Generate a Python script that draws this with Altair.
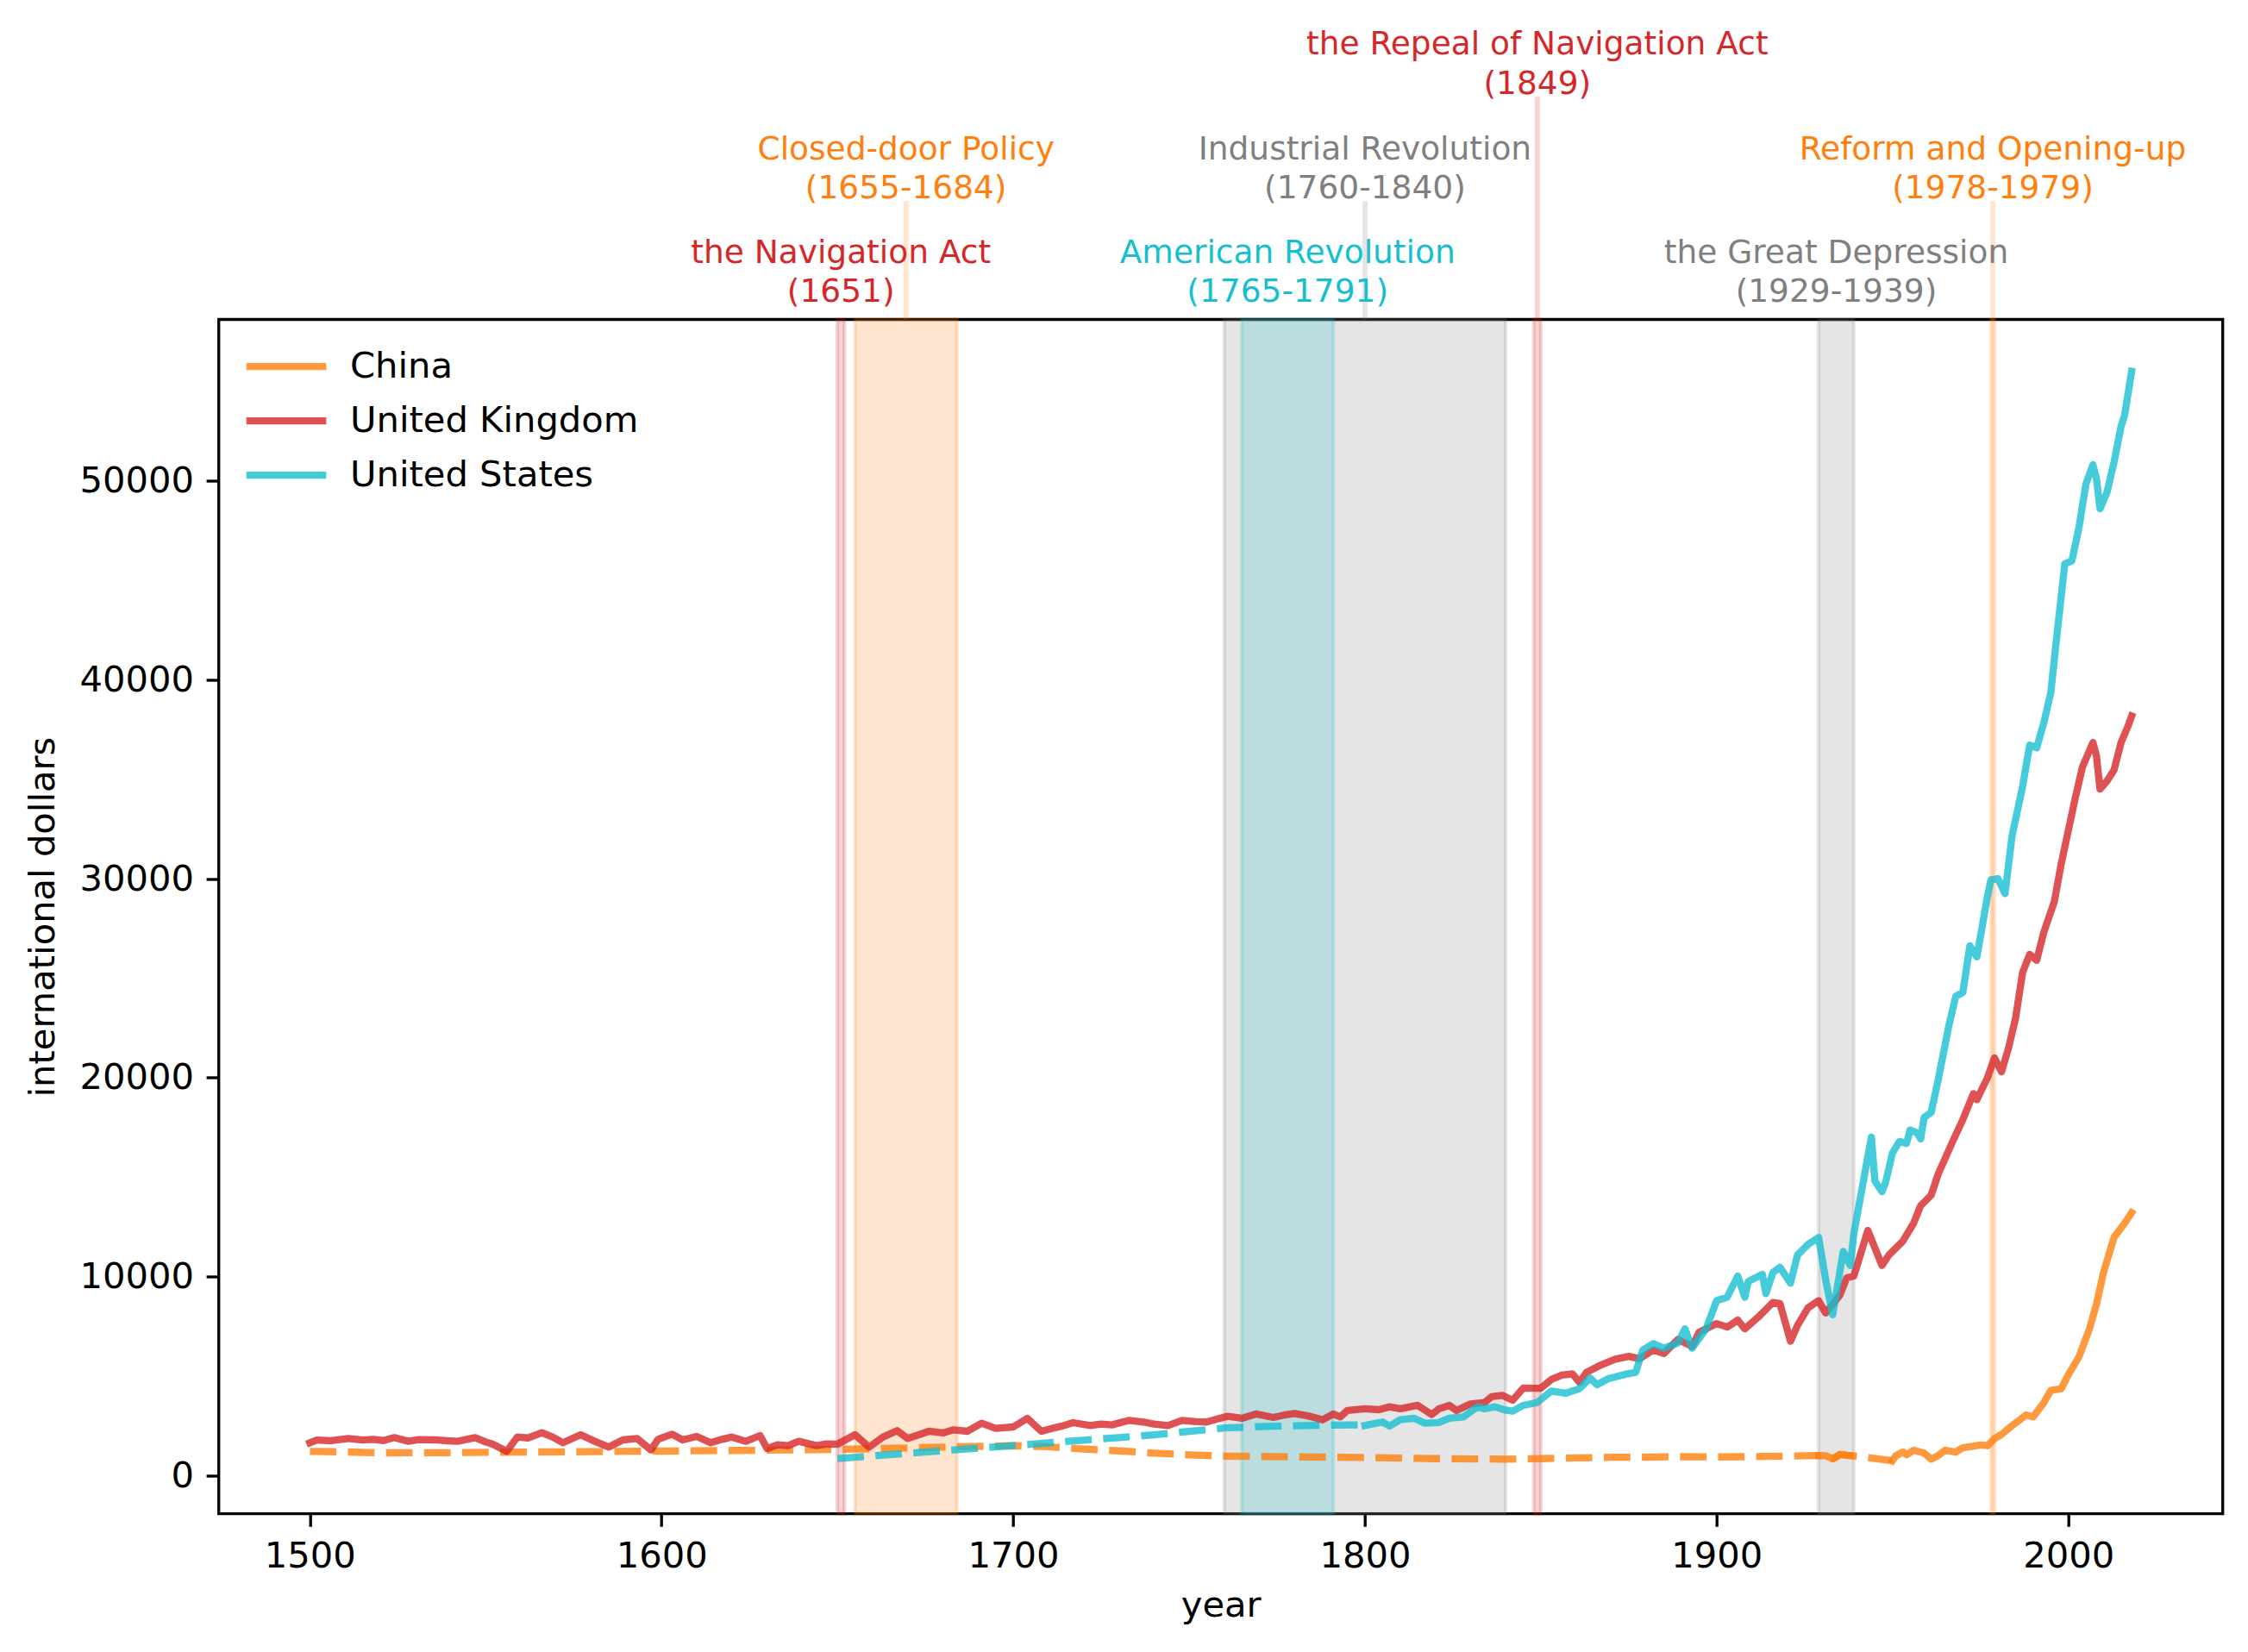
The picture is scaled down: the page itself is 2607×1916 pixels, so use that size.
import altair as alt
import pandas as pd

# ---------------- data ----------------
countries = ["China", "United Kingdom", "United States"]
country_colors = ["#ff7f0e", "#d62728", "#17becf"]

uk_years = [1500, 1502, 1506, 1511, 1515, 1518, 1521, 1524, 1528, 1531, 1536, 1539, 1542, 1547, 1550,
            1552, 1556, 1559, 1562, 1566, 1569, 1572, 1577, 1581, 1585, 1589, 1593, 1597, 1599, 1603,
            1606, 1610, 1614, 1617, 1620, 1624, 1628, 1630, 1633, 1636, 1639, 1644, 1647, 1650, 1655,
            1659, 1663, 1667, 1670, 1673, 1676, 1680, 1683, 1687, 1691, 1695, 1700, 1704, 1708, 1711,
            1714, 1717, 1722, 1725, 1728, 1733, 1737, 1740, 1744, 1748, 1752, 1755, 1758, 1761, 1765,
            1769, 1774, 1777, 1780, 1784, 1788, 1791, 1793, 1795, 1800, 1804, 1807, 1810, 1815, 1819,
            1821, 1824, 1826, 1830, 1834, 1836, 1839, 1842, 1845, 1848, 1850, 1853, 1856, 1859, 1861,
            1863, 1867, 1871, 1875, 1878, 1882, 1885, 1889, 1893, 1895, 1900, 1903, 1906, 1908, 1912,
            1916, 1918, 1921, 1923, 1926, 1929, 1931, 1935, 1937, 1939, 1943, 1947, 1949, 1953, 1956,
            1958, 1961, 1963, 1967, 1970, 1973, 1974, 1977, 1979, 1981, 1983, 1985, 1987, 1989, 1991,
            1993, 1996, 1998, 2000, 2002, 2004, 2007, 2008, 2009, 2011, 2013, 2015, 2017, 2018]
uk_values = [1660, 1800, 1760, 1875, 1800, 1830, 1770, 1918, 1731, 1820, 1803, 1760, 1731, 1918, 1700,
             1586, 1225, 1947, 1900, 2164, 1947, 1658, 2063, 1731, 1442, 1803, 1875, 1297, 1832, 2092,
             1803, 1976, 1658, 1820, 1947, 1731, 2019, 1370, 1560, 1514, 1731, 1514, 1600, 1586, 2063,
             1442, 1947, 2265, 1875, 2050, 2236, 2150, 2308, 2236, 2640, 2380, 2453, 2886, 2236, 2380,
             2500, 2669, 2525, 2600, 2554, 2785, 2700, 2599, 2526, 2786, 2720, 2700, 2850, 2988, 2887,
             3104, 2930, 3050, 3133, 3000, 2815, 3104, 2959, 3277, 3364, 3320, 3465, 3364, 3537, 3075,
             3364, 3537, 3277, 3609, 3681, 3970, 4042, 3797, 4403, 4400, 4400, 4837, 5053, 5125, 4692,
             5198, 5559, 5850, 6000, 5879, 6321, 6144, 6852, 6498, 7205, 7648, 7471, 7825, 7383, 8001,
             8709, 8655, 6763, 7559, 8443, 8797, 8178, 9062, 9946, 10035, 12334, 10565, 11095, 11803, 12688,
             13572, 14102, 15164, 16755, 17900, 19200, 18900, 20000, 21000, 20300, 21500, 23000, 25300, 26200, 25900,
             27300, 28840, 30774, 32432, 34090, 35610, 36853, 36163, 34505, 34919, 35472, 36853, 37682, 38180]

us_early_years = [1650, 1660, 1670, 1680, 1690, 1700, 1710, 1720, 1730, 1740, 1750, 1760, 1770, 1780, 1790, 1800]
us_early_values = [864, 1000, 1130, 1260, 1385, 1514, 1650, 1790, 1920, 2060, 2230, 2400, 2470, 2515, 2540, 2555]

us_years = [1800, 1802, 1805, 1807, 1810, 1814, 1817, 1821, 1824, 1828, 1832, 1834, 1837, 1840, 1842,
            1845, 1849, 1853, 1857, 1861, 1864, 1866, 1869, 1874, 1877, 1879, 1882, 1885, 1889, 1891,
            1893, 1897, 1900, 1903, 1906, 1908, 1909, 1913, 1914, 1916, 1918, 1921, 1923, 1926, 1929,
            1931, 1933, 1936, 1938, 1939, 1944, 1945, 1947, 1948, 1950, 1952, 1954, 1955, 1957, 1958,
            1959, 1961, 1963, 1966, 1968, 1970, 1972, 1974, 1977, 1978, 1980, 1982, 1984, 1987, 1989,
            1991, 1993, 1995, 1997, 1999, 2001, 2003, 2005, 2007, 2008, 2009, 2011, 2013, 2015, 2016, 2018]
us_values = [2526, 2600, 2700, 2497, 2815, 2887, 2642, 2671, 2887, 2959, 3465, 3364, 3465, 3300, 3248,
             3537, 3681, 4259, 4143, 4374, 4909, 4576, 4865, 5097, 5200, 6321, 6639, 6409, 6675, 7383,
             6409, 7383, 8797, 8974, 10035, 8974, 9770, 10123, 9150, 10212, 10477, 9681, 11095, 11626, 11980,
             9858, 8089, 11272, 10565, 12157, 17020, 14810, 14279, 14721, 16225, 16800, 16700, 17374, 17236, 16932,
             18000, 18259, 19900, 22600, 24100, 24281, 26630, 26077, 29117, 29946, 30001, 29255, 32156, 34643, 36715,
             36577, 37821, 39340, 42656, 45833, 45971, 47629, 49839, 50806, 50115, 48596, 49425, 50944, 52740, 53293, 55503]

china_early_years = [1500, 1510, 1520, 1540, 1560, 1580, 1600, 1620, 1640, 1660, 1680, 1700, 1710, 1720,
                     1730, 1740, 1750, 1760, 1780, 1800, 1820, 1840, 1850, 1860, 1870, 1880, 1890, 1900,
                     1910, 1920, 1929, 1930, 1931, 1932, 1933, 1934, 1935, 1936, 1937, 1938, 1950]
china_early_values = [1220, 1200, 1150, 1160, 1190, 1210, 1240, 1270, 1300, 1360, 1440, 1510, 1460, 1340,
                      1250, 1140, 1050, 990, 950, 920, 860, 836, 860, 895, 930, 935, 960, 945,
                      960, 990, 1015, 1020, 1010, 930, 850, 950, 1069, 1060, 1030, 1015, 760]

china_1930s_years = [1929, 1930, 1931, 1932, 1933, 1934, 1935, 1936, 1937, 1938]
china_1930s_values = [1015, 1020, 1010, 930, 850, 950, 1069, 1060, 1030, 1015]

china_modern_years = [1950, 1951, 1953, 1954, 1956, 1959, 1961, 1963, 1965, 1968, 1970, 1972, 1975, 1977,
                      1979, 1981, 1984, 1988, 1990, 1993, 1995, 1998, 2000, 2003, 2006, 2008, 2010, 2013,
                      2016, 2018]
china_modern_values = [760, 1015, 1192, 1051, 1281, 1139, 838, 1015, 1281, 1192, 1405, 1458, 1546, 1511,
                       1864, 2077, 2519, 3050, 2962, 3668, 4288, 4376, 5083, 5968, 7383, 8621, 10212, 11981,
                       12688, 13218]

event_names = ["the Navigation Act", "Closed-door Policy", "Industrial Revolution", "American Revolution",
               "the Repeal of Navigation Act", "the Great Depression", "Reform and Opening-up"]
event_periods = ["(1651)", "(1655-1684)", "(1760-1840)", "(1765-1791)", "(1849)", "(1929-1939)", "(1978-1979)"]
event_starts = [1650, 1655, 1760, 1765, 1848, 1929, 1978]
event_ends = [1652, 1684, 1840, 1791, 1850, 1939, 1979]
event_colors = ["#d62728", "#ff7f0e", "#7f7f7f", "#17becf", "#d62728", "#7f7f7f", "#ff7f0e"]
event_rows = [0, 1, 1, 0, 2, 0, 1]
label_levels = [59000, 64200, 69450]   # y (data units) of the second label line per row

x_ticks = [1500, 1600, 1700, 1800, 1900, 2000]
y_ticks = [0, 10000, 20000, 30000, 40000, 50000]

# ---------------- layout / style ----------------
FONT = "DejaVu Sans"
FS = 41.67        # 10 pt at 300 dpi
FS_NOTE = 37.5    # 9 pt at 300 dpi
PW, PH = 2324, 1385.2
X_DOMAIN = [1474.1, 2043.9]
Y_DOMAIN = [-1911, 58107]
LW = 8.33

XS = alt.Scale(domain=X_DOMAIN, nice=False, zero=False)
YS = alt.Scale(domain=Y_DOMAIN, nice=False, zero=False)
XAX = alt.Axis(title="year", values=x_ticks, format="d", titlePadding=14.5)
YAX = alt.Axis(title="international dollars", values=y_ticks, format="d", titlePadding=20)


def X(field):
    return alt.X(f"{field}:Q", scale=XS, axis=XAX)


def Y(field):
    return alt.Y(f"{field}:Q", scale=YS, axis=YAX)


# ---------------- tables ----------------
solid_rows = []
for yrs, vals, c, seg in [
    (china_1930s_years, china_1930s_values, "China", "cn30"),
    (china_modern_years, china_modern_values, "China", "cnmod"),
    (uk_years, uk_values, "United Kingdom", "uk"),
    (us_years, us_values, "United States", "us"),
]:
    for yv, vv in zip(yrs, vals):
        solid_rows.append({"year": yv, "value": vv, "country": c, "seg": seg})
solid_df = pd.DataFrame(solid_rows)

cn_dash_df = pd.DataFrame({"year": china_early_years, "value": china_early_values})
us_dash_df = pd.DataFrame({"year": us_early_years, "value": us_early_values})

ev = pd.DataFrame({
    "name": event_names, "period": event_periods, "start": event_starts, "end": event_ends,
    "color": event_colors, "row": event_rows,
})
ev["center"] = (ev["start"] + ev["end"]) / 2
ev["level"] = [label_levels[r] for r in event_rows]
ev["ctop"] = ev["level"] - 150

# ---------------- layers ----------------
spans = alt.Chart(ev).mark_rect(fillOpacity=0.2, strokeOpacity=0.2, strokeWidth=4.17).encode(
    x=X("start"), x2="end:Q",
    y=alt.value(0), y2=alt.value(PH),
    fill=alt.Fill("color:N", scale=None),
    stroke=alt.Stroke("color:N", scale=None),
)

connectors = alt.Chart(ev).transform_filter("datum.row > 0").mark_rule(
    strokeWidth=6, strokeOpacity=0.2
).encode(
    x=X("center"), y=Y("ctop"), y2=alt.value(0),
    stroke=alt.Stroke("color:N", scale=None),
)

dash = [3.7 * LW, 1.6 * LW]
cn_dash = alt.Chart(cn_dash_df).mark_line(
    strokeWidth=LW, opacity=0.8, strokeDash=dash, strokeCap="butt", strokeJoin="round",
    color=country_colors[0]
).encode(x=X("year"), y=Y("value"), order="year:Q")

us_dash = alt.Chart(us_dash_df).mark_line(
    strokeWidth=LW, opacity=0.8, strokeDash=dash, strokeCap="butt", strokeJoin="round",
    color=country_colors[2]
).encode(x=X("year"), y=Y("value"), order="year:Q")

# legend handle: a horizontal line path, longer than the nominal symbol size so
# the legend rows stay as tight as in the reference
solid = alt.Chart(solid_df).mark_line(
    strokeWidth=LW, opacity=0.8, strokeCap="square", strokeJoin="round"
).encode(
    x=X("year"), y=Y("value"),
    color=alt.Color("country:N", scale=alt.Scale(domain=countries, range=country_colors),
                    legend=alt.Legend(
                        title=None, orient="none", legendX=37.85, legendY=14.15,
                        symbolType="M-1.279,0H1.279", symbolSize=5242, symbolStrokeWidth=LW,
                        symbolOpacity=0.8,
                        labelFont=FONT, labelFontSize=FS, labelColor="black", labelLimit=0,
                        labelOffset=33.45, rowPadding=0, padding=0,
                    )),
    detail="seg:N",
    order="year:Q",
)

label2 = alt.Chart(ev).mark_text(font=FONT, fontSize=FS_NOTE, baseline="alphabetic", align="center").encode(
    x=X("center"), y=Y("level"), text="period:N", fill=alt.Fill("color:N", scale=None),
)
label1 = alt.Chart(ev).mark_text(font=FONT, fontSize=FS_NOTE, baseline="alphabetic", align="center",
                                 dy=-45.3).encode(
    x=X("center"), y=Y("level"), text="name:N", fill=alt.Fill("color:N", scale=None),
)

chart = alt.layer(spans, connectors, cn_dash, us_dash, solid, label2, label1).properties(
    width=PW, height=PH,
    autosize=alt.AutoSizeParams(type="none"),
    padding={"left": 245.7, "top": 362.5, "right": 21.3, "bottom": 152.3},
).configure_view(
    stroke="black", strokeWidth=3.33
).configure_axis(
    domain=False, grid=False, ticks=True, tickColor="black", tickWidth=3.33, tickSize=14.6,
    labelPadding=14.6, labelFont=FONT, labelFontSize=FS, labelColor="black",
    titleFont=FONT, titleFontSize=FS, titleFontWeight="normal", titleColor="black",
    labelFlush=False, labelOverlap=False,
)

chart.save("out.html", embed_options={"renderer": "svg", "actions": False})
